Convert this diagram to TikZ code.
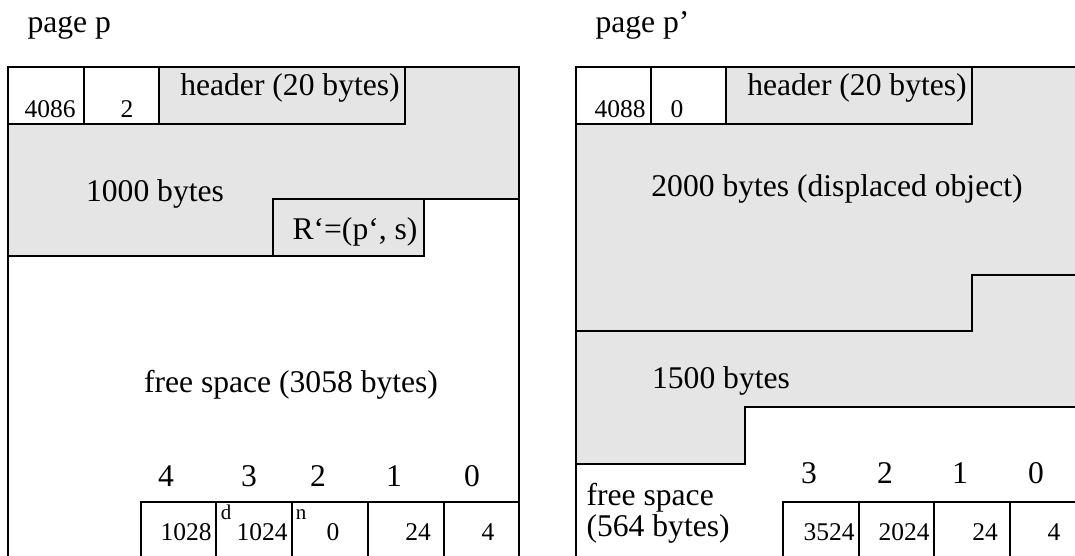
\documentclass[tikz,border=0pt]{standalone}
\usepackage{fontspec}
\setmainfont{Liberation Serif}
\usepackage{xcolor}
\usepackage{tikz}
\usetikzlibrary{
	positioning
}
\definecolor{pagegray}{gray}{0.9}
\tikzset{
	bigtext/.style={font=\fontsize{31.6}{36}\selectfont, inner sep=0pt, anchor=base},
	smalltext/.style={font=\fontsize{25.5}{30}\selectfont, inner sep=0pt, anchor=base},
	tinytext/.style={font=\fontsize{21}{24}\selectfont, inner sep=0pt, anchor=base},
	pageline/.style={line width=1.2pt}
}

\begin{document}
\begin{tikzpicture}
	[x=1pt, y=-1pt, pageline]

	\useasboundingbox (0,0) rectangle (1075,556);
	\newcommand{\PageBottom}{575}
	\newcommand{\SlotTop}{502}

	% page p
	\begin{scope}
		\node[bigtext, anchor=base west] (ptitle) at (27,33) {page p};

		% filled area
		\fill[pagegray] (8,124) -- (159,124) -- (159,67) -- (519,67) -- (519,199)
			-- (424,199) -- (424,256) -- (8,256) -- cycle;

		% header cells
		\draw (8,67) rectangle (84,124);
		\draw (84,67) rectangle (159,124);
		\draw (159,67) rectangle (405,124);

		% object and forward record
		\draw (273,199) -- (519,199);
		\draw (273,199) rectangle (424,256);
		\draw (8,256) -- (273,256);

		% page frame
		\draw (8,\PageBottom) -- (8,67) -- (519,67) -- (519,\PageBottom);

		\node[smalltext] (pfree) at (50,117.6) {4086};
		\node[smalltext] (pcount) at (127,117.6) {2};
		\node[bigtext] (phead) at (290,96) {header (20 bytes)};
		\node[bigtext] (pobj) at (155,201.5) {1000 bytes};
		\node[bigtext] (pfwd) at (355,239.5) {R‘=(p‘, s)};
		\node[bigtext] (pspace) at (291,392) {free space (3058 bytes)};

		% slot table
		\draw (141,\PageBottom) -- (141,\SlotTop) -- (519,\SlotTop);
		\foreach \x in {216,292,368,444} {
			\draw (\x,\SlotTop) -- (\x,\PageBottom);
		}
		\foreach \i/\lx/\vx/\v in {4/166/186/1028, 3/249/262/1024, 2/318/333/0, 1/394/418/24, 0/472/488/4} {
			\node[bigtext] (pnum\i) at (\lx,486) {\i};
			\node[smalltext] (pslot\i) at (\vx,540) {\v};
		}
		\node[tinytext] (pmarkd) at (226,519) {d};
		\node[tinytext] (pmarkn) at (301,519) {n};
	\end{scope}

	% page p'
	\begin{scope}
		\node[bigtext, anchor=base west] (qtitle) at (595,33) {page p’};

		% filled area
		\fill[pagegray] (576,124) -- (726,124) -- (726,67) -- (1090,67) -- (1090,407)
			-- (745,407) -- (745,464) -- (576,464) -- cycle;

		% header cells
		\draw (576,67) rectangle (651,124);
		\draw (651,67) rectangle (726,124);
		\draw (726,67) rectangle (972,124);

		% object borders
		\draw (576,331) -- (972,331) -- (972,275) -- (1090,275);
		\draw (1090,407) -- (745,407) -- (745,464) -- (576,464);

		% page frame
		\draw (576,\PageBottom) -- (576,67) -- (1090,67);

		\node[smalltext] (qfree) at (620,117.6) {4088};
		\node[smalltext] (qcount) at (677,117.6) {0};
		\node[bigtext] (qhead) at (857,96) {header (20 bytes)};
		\node[bigtext] (qobj) at (837,196.7) {2000 bytes (displaced object)};
		\node[bigtext] (qmoved) at (721,388) {1500 bytes};
		\node[bigtext, anchor=base west] (qspacea) at (586,505) {free space};
		\node[bigtext, anchor=base west] (qspaceb) at (586,536) {(564 bytes)};

		% slot table
		\draw (783,\PageBottom) -- (783,\SlotTop) -- (1090,\SlotTop);
		\foreach \x in {859,934,1010} {
			\draw (\x,\SlotTop) -- (\x,\PageBottom);
		}
		\foreach \i/\lx/\vx/\v in {3/809/829/3524, 2/885/904/2024, 1/960/985/24, 0/1036/1054/4} {
			\node[bigtext] (qnum\i) at (\lx,483) {\i};
			\node[smalltext] (qslot\i) at (\vx,540) {\v};
		}
	\end{scope}

\end{tikzpicture}
\end{document}
